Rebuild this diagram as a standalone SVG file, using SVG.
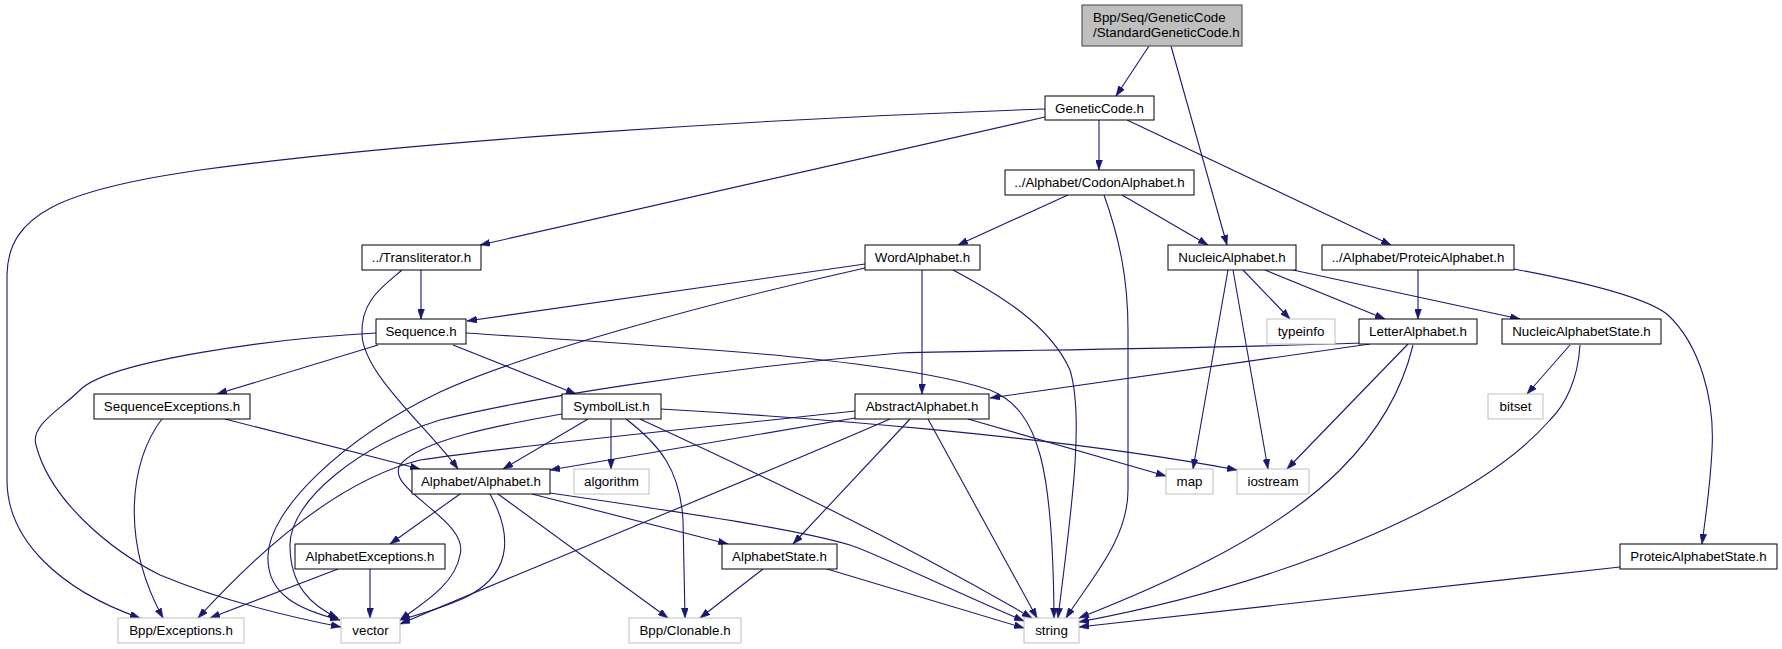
<svg xmlns="http://www.w3.org/2000/svg" width="1782" height="649" viewBox="0 0 1782 649">
<style>
.n rect{fill:#fff;stroke:#000;stroke-width:1}
.x rect{fill:#fff;stroke:#bfbfbf;stroke-width:1}
.r rect{fill:#bfbfbf;stroke:#404040;stroke-width:1}
text{font-family:"Liberation Sans",Arial,Helvetica,sans-serif;font-size:13.33px;fill:#000}
.c{text-anchor:middle}
#edges path{fill:none;stroke:#191970;stroke-width:1.1;marker-end:url(#ah)}
</style>
<defs>
<marker id="ah" markerUnits="userSpaceOnUse" viewBox="0 0 10 7" refX="10" refY="3.5" markerWidth="10" markerHeight="7" orient="auto">
<path d="M0,0 L10,3.5 L0,7 z" fill="#191970" stroke="#191970" stroke-width="0.5"/>
</marker>
</defs>
<rect width="1782" height="649" fill="#fff"/>
<g id="edges">
<path d="M1149,46 L1116,96"/>
<path d="M1171,46 L1227,245"/>
<path d="M1045,109 C780,118 420,140 200,170 C60,190 8,215 7,275 L7,480 C7,540 60,590 140,618"/>
<path d="M1045,117 L480,245"/>
<path d="M1099,120 L1099,170"/>
<path d="M1127,120 L1391,245"/>
<path d="M1068,195 L958,245"/>
<path d="M1122,195 L1208,245"/>
<path d="M1104,195 C1120,240 1128,280 1128,330 L1128,490 C1128,540 1090,580 1066,618"/>
<path d="M421,270 L421,319"/>
<path d="M402,270 C385,285 360,300 362,335 C364,375 430,430 458,469"/>
<path d="M865,264 L467,321"/>
<path d="M865,268 C700,305 520,355 440,392 C340,440 270,510 268,555 C266,595 300,610 340,620"/>
<path d="M922,270 L922,394"/>
<path d="M953,270 C1000,295 1050,325 1070,370 C1085,420 1070,520 1058,618"/>
<path d="M376,333 C280,338 110,360 80,390 C60,410 30,425 36,445 C50,500 110,550 160,575 C220,600 280,615 341,627"/>
<path d="M378,345 L217,394"/>
<path d="M453,345 L576,394"/>
<path d="M466,333 C700,348 900,360 990,390 C1040,410 1053,470 1054,618"/>
<path d="M611,419 L611,469"/>
<path d="M588,419 L503,469"/>
<path d="M626,419 C660,445 680,470 683,520 L685,618"/>
<path d="M640,419 C760,475 880,530 1032,618"/>
<path d="M661,409 C800,417 1050,435 1237,470"/>
<path d="M562,414 C500,425 420,440 400,465 C385,490 470,520 460,555 C455,585 420,605 400,620"/>
<path d="M855,418 L550,470"/>
<path d="M855,411 C700,428 520,445 420,460 C340,480 260,550 198,618"/>
<path d="M890,419 C750,480 550,560 400,624"/>
<path d="M910,419 L793,544"/>
<path d="M928,419 L1037,618"/>
<path d="M968,419 L1166,476"/>
<path d="M460,494 L390,544"/>
<path d="M490,494 C510,530 515,570 470,595 C450,606 420,614 400,620"/>
<path d="M498,494 L668,618"/>
<path d="M532,494 L728,544"/>
<path d="M550,493 C700,515 800,530 850,545 C880,555 950,590 1024,621"/>
<path d="M827,569 L1024,628"/>
<path d="M763,569 L700,618"/>
<path d="M338,569 L210,618"/>
<path d="M370,569 L370,618"/>
<path d="M162,419 C130,460 120,540 163,618"/>
<path d="M225,419 L420,469"/>
<path d="M1228,270 L1193,469"/>
<path d="M1233,270 L1268,469"/>
<path d="M1243,270 L1290,319"/>
<path d="M1265,270 L1385,319"/>
<path d="M1293,270 L1520,319"/>
<path d="M1418,270 L1418,319"/>
<path d="M1514,269 C1600,285 1650,300 1668,315 C1700,345 1715,400 1712,450 C1710,490 1705,520 1702,544"/>
<path d="M1370,344 L990,398"/>
<path d="M1362,343 C1150,350 1000,350 900,353 C700,370 520,400 440,420 C360,445 290,500 290,545 C290,585 310,605 338,618"/>
<path d="M1408,344 L1287,469"/>
<path d="M1413,345 C1400,400 1370,440 1340,470 C1270,540 1150,590 1079,618"/>
<path d="M1570,345 L1527,394"/>
<path d="M1580,345 C1578,380 1565,405 1550,420 C1480,500 1300,580 1079,622"/>
<path d="M1620,567 L1079,627"/>
</g>
<g id="root" class="r"><rect x="1082" y="5" width="160" height="41"/><text x="1093" y="22">Bpp/Seq/GeneticCode</text><text x="1093" y="37">/StandardGeneticCode.h</text></g>
<g id="geneticcode" class="n"><rect x="1045" y="96" width="109" height="24"/><text class="c" x="1099.5" y="113">GeneticCode.h</text></g>
<g id="transliterator" class="n"><rect x="362" y="245" width="119" height="25"/><text class="c" x="421.5" y="262">../Transliterator.h</text></g>
<g id="codonalphabet" class="n"><rect x="1005" y="170" width="189" height="25"/><text class="c" x="1099.5" y="187">../Alphabet/CodonAlphabet.h</text></g>
<g id="wordalphabet" class="n"><rect x="865" y="245" width="115" height="25"/><text class="c" x="922.5" y="262">WordAlphabet.h</text></g>
<g id="nucleicalphabet" class="n"><rect x="1168" y="245" width="128" height="25"/><text class="c" x="1232" y="262">NucleicAlphabet.h</text></g>
<g id="proteicalphabet" class="n"><rect x="1322" y="245" width="192" height="25"/><text class="c" x="1418" y="262">../Alphabet/ProteicAlphabet.h</text></g>
<g id="sequence" class="n"><rect x="376" y="319" width="90" height="25"/><text class="c" x="421" y="336">Sequence.h</text></g>
<g id="typeinfo" class="x"><rect x="1267" y="319" width="68" height="25"/><text class="c" x="1301" y="336">typeinfo</text></g>
<g id="letteralphabet" class="n"><rect x="1359" y="319" width="118" height="25"/><text class="c" x="1418" y="336">LetterAlphabet.h</text></g>
<g id="nucleicalphabetstate" class="n"><rect x="1502" y="319" width="159" height="25"/><text class="c" x="1581.5" y="336">NucleicAlphabetState.h</text></g>
<g id="sequenceexceptions" class="n"><rect x="94" y="394" width="156" height="25"/><text class="c" x="172" y="411">SequenceExceptions.h</text></g>
<g id="symbollist" class="n"><rect x="562" y="394" width="99" height="25"/><text class="c" x="611.5" y="411">SymbolList.h</text></g>
<g id="abstractalphabet" class="n"><rect x="855" y="394" width="134" height="25"/><text class="c" x="922" y="411">AbstractAlphabet.h</text></g>
<g id="bitset" class="x"><rect x="1488" y="394" width="55" height="25"/><text class="c" x="1515.5" y="411">bitset</text></g>
<g id="alphabet" class="n"><rect x="412" y="469" width="138" height="25"/><text class="c" x="481" y="486">Alphabet/Alphabet.h</text></g>
<g id="algorithm" class="x"><rect x="574" y="469" width="75" height="25"/><text class="c" x="611.5" y="486">algorithm</text></g>
<g id="map" class="x"><rect x="1166" y="469" width="47" height="25"/><text class="c" x="1189.5" y="486">map</text></g>
<g id="iostream" class="x"><rect x="1237" y="469" width="72" height="25"/><text class="c" x="1273" y="486">iostream</text></g>
<g id="alphabetexceptions" class="n"><rect x="295" y="544" width="150" height="25"/><text class="c" x="370" y="561">AlphabetExceptions.h</text></g>
<g id="alphabetstate" class="n"><rect x="722" y="544" width="115" height="25"/><text class="c" x="779.5" y="561">AlphabetState.h</text></g>
<g id="proteicalphabetstate" class="n"><rect x="1620" y="544" width="157" height="25"/><text class="c" x="1698.5" y="561">ProteicAlphabetState.h</text></g>
<g id="exceptions" class="x"><rect x="118" y="618" width="126" height="25"/><text class="c" x="181" y="635">Bpp/Exceptions.h</text></g>
<g id="vector" class="x"><rect x="341" y="618" width="59" height="25"/><text class="c" x="370.5" y="635">vector</text></g>
<g id="clonable" class="x"><rect x="629" y="618" width="112" height="25"/><text class="c" x="685" y="635">Bpp/Clonable.h</text></g>
<g id="string" class="x"><rect x="1024" y="618" width="55" height="25"/><text class="c" x="1051.5" y="635">string</text></g>
</svg>
